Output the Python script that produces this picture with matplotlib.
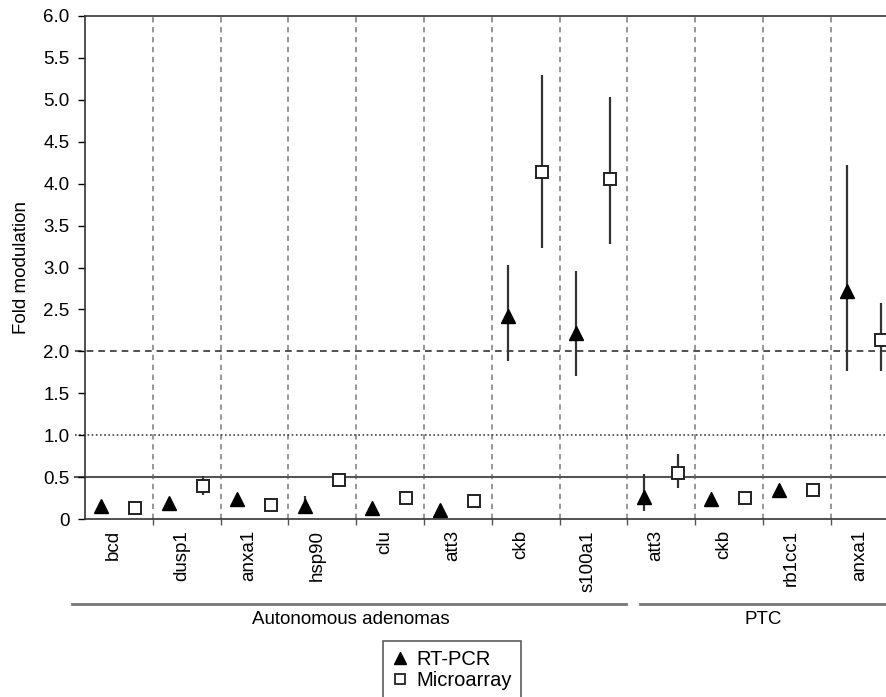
import numpy as np
import matplotlib
matplotlib.use("Agg")
import matplotlib.pyplot as plt
from matplotlib.lines import Line2D
import matplotlib.transforms as mtransforms

plt.rcParams['font.family'] = ['Liberation Sans', 'DejaVu Sans']

# genes along the x axis (first 8 = autonomous adenomas, last 4 = PTC)
genes = ['bcd', 'dusp1', 'anxa1', 'hsp90', 'clu', 'att3', 'ckb', 's100a1',
         'att3', 'ckb', 'rb1cc1', 'anxa1']
groups = ['Autonomous adenomas', 'PTC']
group_sizes = [8, 4]

# RT-PCR values with range (nan = no bar shown)
rt_pcr = [0.15, 0.19, 0.24, 0.15, 0.13, 0.11, 2.42, 2.22, 0.26, 0.24, 0.35, 2.72]
rt_low = [np.nan, np.nan, np.nan, 0.09, np.nan, np.nan, 1.89, 1.70, 0.10, np.nan, np.nan, 1.77]
rt_high = [np.nan, np.nan, np.nan, 0.27, np.nan, np.nan, 3.03, 2.96, 0.54, np.nan, np.nan, 4.22]

# Microarray values with range
micro = [0.135, 0.39, 0.17, 0.46, 0.25, 0.22, 4.14, 4.06, 0.545, 0.25, 0.35, 2.14]
micro_low = [np.nan, 0.29, np.nan, np.nan, np.nan, np.nan, 3.23, 3.28, 0.37, np.nan, np.nan, 1.77]
micro_high = [np.nan, 0.51, np.nan, np.nan, np.nan, np.nan, 5.30, 5.03, 0.78, np.nan, np.nan, 2.58]

# threshold lines
ref_lines = [(0.5, '-', '#555555', 1.5), (1.0, (0, (1, 1.5)), '#444444', 1.2),
             (2.0, (0, (4, 3)), '#333333', 1.2)]

fig = plt.figure(figsize=(8.86, 6.97), dpi=100)
ax = fig.add_axes([85 / 886, 178 / 697, 12 * 67.8 / 886, 503 / 697])

n = len(genes)
x = np.arange(n)
x_rt = x - 0.26
x_mi = x + 0.24

ax.set_xlim(-0.5, n - 0.5)
ax.set_ylim(0, 6)

# vertical separators between genes
for b in np.arange(0.5, n - 0.5, 1):
    ax.axvline(b, color='#7a7a7a', lw=1.1, ls=(0, (3.5, 3)), zorder=1)

for yv, ls, col, lw in ref_lines:
    ax.axhline(yv, xmin=-0.012, xmax=1, color=col, ls=ls, lw=lw, zorder=1, clip_on=False)

# range bars
rt_low_a, rt_high_a = np.array(rt_low), np.array(rt_high)
mi_low_a, mi_high_a = np.array(micro_low), np.array(micro_high)
ok = ~np.isnan(rt_low_a)
ax.vlines(x_rt[ok], rt_low_a[ok], rt_high_a[ok], color='#333333', lw=1.6, zorder=2)
ok = ~np.isnan(mi_low_a)
ax.vlines(x_mi[ok], mi_low_a[ok], mi_high_a[ok], color='#333333', lw=1.6, zorder=2)

ax.plot(x_rt, rt_pcr, ls='none', marker='^', ms=10, color='black', zorder=3)
ax.plot(x_mi, micro, ls='none', marker='s', ms=8.5, mfc='white', mec='#222222', mew=1.4, zorder=3)

# axes styling
ax.set_yticks(np.arange(0, 6.01, 0.5))
ax.set_yticklabels(['0'] + ['%.1f' % v for v in np.arange(0.5, 6.01, 0.5)])
ax.set_xticks(x - 0.08)
ax.set_xticklabels(genes, rotation=90)
ax.set_xticks(np.arange(0.5, n - 0.5, 1), minor=True)
ax.tick_params(axis='x', which='major', length=0, pad=8, labelsize=13.5)
ax.tick_params(axis='x', which='minor', length=4, width=1, color='#555555', direction='out')
ax.tick_params(axis='y', length=5, width=1, pad=6, labelsize=13.5)
for sp in ax.spines.values():
    sp.set_color('#333333')
    sp.set_linewidth(1.2)
ax.set_ylabel('Fold modulation', fontsize=13.5)
ax.yaxis.set_label_coords(-0.068, 0.5)

# group underlines and names
trans = mtransforms.blended_transform_factory(ax.transData, ax.transAxes)
spans = [(-0.69, 7.48), (7.69, 12.0)]
label_x = [3.42, 9.5]
for name, (x0, x1), lx in zip(groups, spans, label_x):
    ax.plot([x0, x1], [-0.169, -0.169], transform=trans, color='#777777', lw=2, clip_on=False)
    ax.text(lx, -0.2, name, transform=trans, ha='center', va='center', fontsize=13.5)

handles = [Line2D([], [], ls='none', marker='^', ms=8, color='black'),
           Line2D([], [], ls='none', marker='s', ms=7, mfc='white', mec='#222222', mew=1.3)]
leg = fig.legend(handles, ['RT-PCR', 'Microarray'], loc='upper center',
                 bbox_to_anchor=(452 / 886, 1 - 641 / 697), fontsize=14.5, frameon=True,
                 fancybox=False, handlelength=0.8, handletextpad=0.4, borderpad=0.45,
                 labelspacing=0.1, borderaxespad=0)
leg.get_frame().set_edgecolor('#333333')
leg.get_frame().set_linewidth(1.2)

fig.savefig('out.png', dpi=100)
